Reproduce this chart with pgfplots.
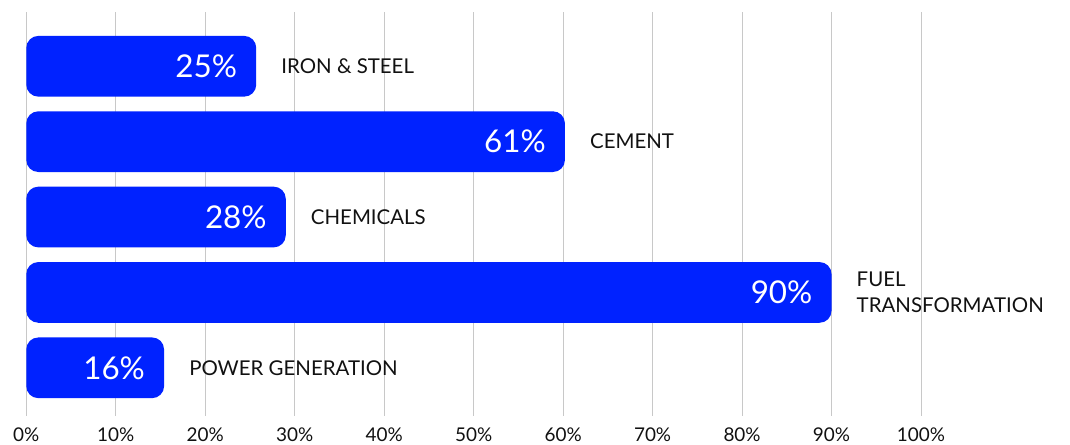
\documentclass[border=0pt]{standalone}
\usepackage{pgfplots}
\pgfplotsset{compat=1.18}
\usepackage{pgfplotstable}
\usepackage{fontspec}
\setmainfont{Lato}
\definecolor{barblue}{RGB}{0,34,255}
\definecolor{gridgray}{RGB}{200,200,200}
\definecolor{txt}{RGB}{17,17,17}

\pgfplotstableread[col sep=semicolon]{
y;v;pct;name
0;25.7;25\%;IRON \& STEEL
1;60.2;61\%;CEMENT
2;29.0;28\%;CHEMICALS
3;90.0;90\%;{FUEL\\TRANSFORMATION}
4;15.4;16\%;POWER GENERATION
}\data

\begin{document}
\begin{tikzpicture}
\useasboundingbox (-26.3bp,-29.5bp) rectangle (1043.7bp,415.5bp);
\begin{axis}[
  scale only axis,
  width=894.7bp, height=403.5bp,
  xmin=0, xmax=100,
  ymin=-0.72, ymax=4.633,
  y dir=reverse,
  axis line style={draw=none},
  xtick={0,10,...,100},
  ytick=\empty,
  major tick length=0pt,
  xmajorgrids,
  grid style={gridgray, line width=0.9bp},
  /pgf/number format/assume math mode=true,
  xticklabel={\pgfmathprintnumber{\tick}\%},
  xticklabel style={font=\fontsize{19}{22}\selectfont, text=txt, anchor=north, inner sep=0pt, yshift=-12.5bp},
  clip=false,
  xbar, bar width=60.7bp, bar shift=0pt,
]
\addplot[fill=barblue, draw=none, rounded corners=12bp,
  point meta=explicit symbolic,
  nodes near coords,
  every node near coord/.style={anchor=east, inner sep=0pt, xshift=-19bp,
    text=white, font=\fontsize{31.5}{34}\selectfont}]
  table[x=v, y=y, meta=pct] {\data};
\addplot[fill=none, draw=none,
  point meta=explicit symbolic,
  nodes near coords,
  every node near coord/.style={anchor=west, inner sep=0pt, xshift=25bp,
    text=txt, align=left, font=\fontsize{20.5}{26}\selectfont}]
  table[x=v, y=y, meta=name] {\data};
\end{axis}
\end{tikzpicture}
\end{document}
